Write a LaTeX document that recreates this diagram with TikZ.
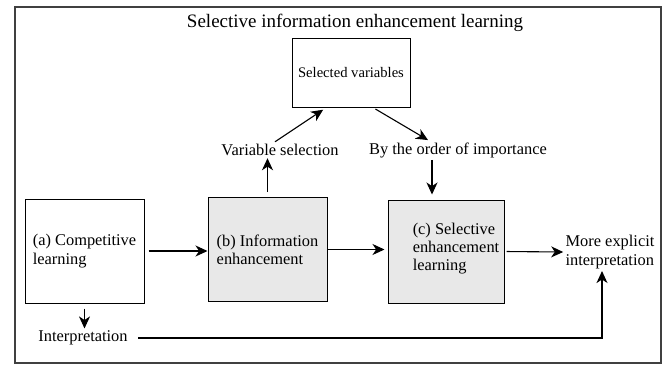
\documentclass[tikz,border=0pt]{standalone}
\usepackage{fontspec}
\setmainfont{Liberation Serif}
\usetikzlibrary{arrows.meta}

\begin{document}
\begin{tikzpicture}[x=0.5pt,y=-0.5pt,
	>={Stealth[length=6pt,width=5.5pt,inset=1.8pt]},
	every node/.style={font=\fontsize{8.2}{9.2}\selectfont, inner sep=1pt},
	stage/.style={draw, line width=0.5pt, align=left,
		minimum width=59.5pt, minimum height=52pt},
	shaded/.style={stage, fill=black!9},
	flow/.style={->, line width=0.55pt}]
	\useasboundingbox (0,0) rectangle (664,365);
	\draw[line width=0.6pt, black!75] (15,7) rectangle (661,363);

	\node (title) at (355,23) {\fontsize{9.5}{11}\selectfont Selective information enhancement learning};
	\node[draw, line width=0.5pt, minimum width=59pt, minimum height=34.5pt] (sel) at (351,72.5)
		{\fontsize{7.3}{8}\selectfont Selected variables};
	\node (varsel) at (280,150) {Variable selection};
	\node (order) at (458,150) {By the order of importance};

	\node[stage] (comp) at (84.5,251) {(a) Competitive\\learning};
	\node[shaded] (info) at (267.5,249.5) {(b) Information\\enhancement};
	\node[shaded, minimum width=58pt, minimum height=51.5pt,
		label={[align=left, xshift=5pt, yshift=1.5pt]center:(c) Selective\\enhancement\\learning}]
		(selenh) at (446,251.5) {};
	\node[align=left] (explicit) at (610,252) {More explicit\\interpretation};
	\node (interp) at (83,338) {Interpretation};

	% main chain
	\draw[flow, shorten <=2pt] (comp.east) -- (comp.east -| info.west);
	\draw[flow, shorten >=1.5pt] (info.east) -- (info.east -| selenh.west);
	\draw[flow, shorten <=1pt] (selenh.east) -- (explicit.west);

	% loop through the selected variables
	\draw[flow, shorten <=2.5pt] (info.north) -- (info.north |- varsel.south);
	\draw[flow, shorten >=2pt] ([xshift=-2.5pt]varsel.north) -- (sel.235);
	\draw[flow, shorten <=1.5pt] (sel.302) -- ([xshift=-15pt]order.north);
	\draw[flow, shorten >=2.5pt] ([xshift=-13pt]order.south) -- ([xshift=-13pt]order.south |- selenh.north);

	% interpretation path
	\draw[flow, shorten <=2.5pt] (comp.south) -- (comp.south |- interp.north);
	\draw[flow, shorten <=4pt] (interp.east) -| ([xshift=-4pt]explicit.south);
\end{tikzpicture}
\end{document}
